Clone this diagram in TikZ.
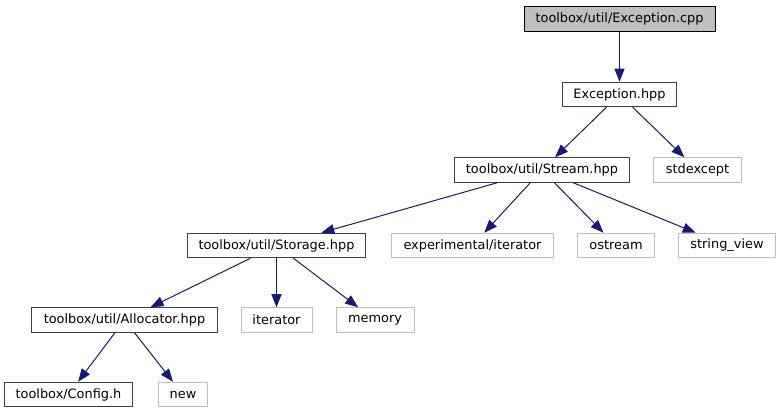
\documentclass[tikz,border=0pt]{standalone}
\usepackage{fontspec}
\setmainfont{DejaVu Sans}
\usepackage{xcolor}
\usepackage{tikz}
\usetikzlibrary{arrows.meta, positioning}
\definecolor{edgeblue}{RGB}{25,25,112}
\definecolor{rootgray}{RGB}{191,191,191}
\definecolor{headborder}{RGB}{64,64,64}
\definecolor{sysborder}{RGB}{191,191,191}
\tikzset{
  filebox/.style={
    rectangle, minimum height=24.5pt, inner xsep=2pt, inner ysep=0pt,
    line width=1pt, fill=white, text=black, text centered,
    font=\fontsize{12.9}{15}\selectfont
  },
  rootfile/.style={filebox, draw=black, fill=rootgray},
  header/.style={filebox, draw=headborder},
  sysheader/.style={filebox, draw=sysborder},
  incarrow/.style={-{Triangle[length=13pt, width=10pt]}, line width=1pt,
    color=edgeblue}
}
\begin{document}
\begin{tikzpicture}[x=1pt, y=-1pt]
  \useasboundingbox (0,0) rectangle (779,411);

  % Top of the graph
  \node[rootfile, minimum width=191pt] (cpp) at (619.5,19)
    {toolbox/util/Exception.cpp};
  \node[header, below=50pt of cpp, minimum width=114pt] (exc)
    {Exception.hpp};

  % Third row
  \node[header, below=50pt of exc, xshift=-77.5pt, minimum width=175pt] (stream)
    {toolbox/util/Stream.hpp};
  \node[sysheader, right=23pt of stream, minimum width=88pt] (stdexc)
    {stdexcept};

  % Fourth row
  \node[header, below=50pt of stream, xshift=-265.5pt, minimum width=178pt] (storage)
    {toolbox/util/Storage.hpp};
  \node[sysheader, right=25pt of storage, minimum width=162pt] (expiter)
    {experimental/iterator};
  \node[sysheader, right=23pt of expiter, minimum width=77pt] (ostream)
    {ostream};
  \node[sysheader, right=23pt of ostream, minimum width=97pt] (strview)
    {string\_view};

  % Fifth row
  \node[header, below=49pt of storage, xshift=-152pt, minimum width=186pt] (alloc)
    {toolbox/util/Allocator.hpp};
  \node[sysheader, below=49pt of storage, minimum width=71pt] (iter)
    {iterator};
  \node[sysheader, right=23pt of iter, minimum width=78pt] (memory)
    {memory};

  % Bottom row
  \node[header, below=49pt of alloc, xshift=-56pt, minimum width=128pt] (config)
    {toolbox/Config.h};
  \node[sysheader, right=25pt of config, minimum width=49pt] (new)
    {new};

  % Include edges
  \draw[incarrow] (cpp) -- (exc);
  \draw[incarrow] (exc) -- (stream);
  \draw[incarrow] (exc) -- (stdexc);
  \draw[incarrow] (stream) -- (storage);
  \draw[incarrow] (stream) -- (expiter);
  \draw[incarrow] (stream) -- (ostream);
  \draw[incarrow] (stream) -- (strview);
  \draw[incarrow] (storage) -- (alloc);
  \draw[incarrow] (storage) -- (iter);
  \draw[incarrow] (storage) -- (memory);
  \draw[incarrow] (alloc) -- (config);
  \draw[incarrow] (alloc) -- (new);
\end{tikzpicture}
\end{document}
